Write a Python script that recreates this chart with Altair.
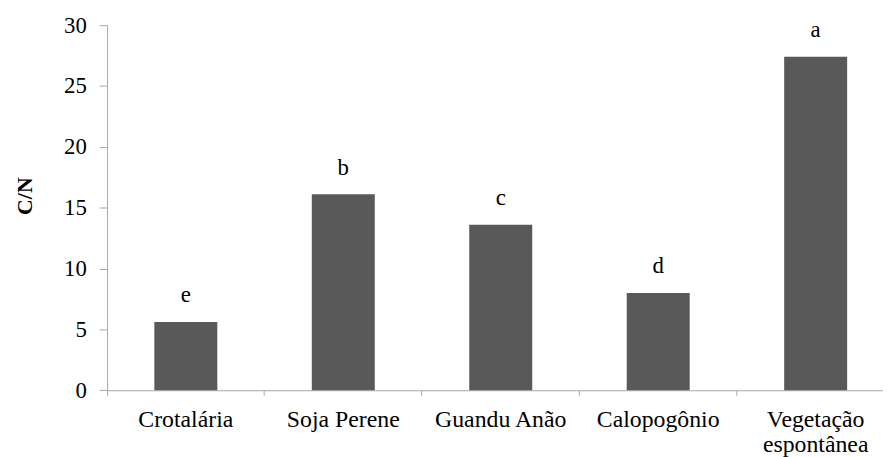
import altair as alt
import pandas as pd

categories = ["Crotalária", "Soja Perene", "Guandu Anão", "Calopogônio", "Vegetação espontânea"]
values = [5.6, 16.1, 13.6, 8.0, 27.4]
letters = ["e", "b", "c", "d", "a"]
y_ticks = [0, 5, 10, 15, 20, 25, 30]

df = pd.DataFrame({"cat": categories, "val": values, "lab": letters})

FONT = "Liberation Serif"
AX = "#a6a6a6"

x = alt.X(
    "cat:N",
    sort=categories,
    scale=alt.Scale(domain=categories, range=[0, 794.5], paddingInner=0, paddingOuter=0),
    axis=alt.Axis(
        title=None, labelAngle=0, bandPosition=0, tickSize=5, labelPadding=13,
        domainColor=AX, tickColor=AX, labelColor="#000000", labelFont=FONT, labelFontSize=24,
        labelLineHeight=25,
        labelExpr="datum.value == 'Vegetação espontânea' ? ['Vegetação', 'espontânea'] : datum.value",
    ),
)
y = alt.Y(
    "val:Q",
    scale=alt.Scale(domain=[0, 30], nice=False),
    axis=alt.Axis(
        values=y_ticks, grid=False, tickSize=8, labelPadding=13,
        domainColor=AX, tickColor=AX, labelColor="#000000", labelFont=FONT, labelFontSize=23,
        title="C/N", titleFont=FONT, titleFontSize=22, titleFontWeight="bold", titleColor="#000000",
        titleAngle=270, titleX=-83, titleY=172, titleAlign="center", titleBaseline="middle",
    ),
)

bars = alt.Chart(df).mark_bar(color="#595959", width=alt.RelativeBandSize(0.4)).encode(x=x, y=y)
text = alt.Chart(df).mark_text(font=FONT, fontSize=23, color="#000000", baseline="alphabetic", dy=-20).encode(
    x=x, y=y, text="lab:N"
)

chart = (
    alt.layer(bars, text)
    .properties(
        width=783, height=368.4,
        autosize=alt.AutoSizeParams(type="none"),
        padding={"left": 100, "top": 15.3, "right": 0, "bottom": 65.3},
        background="white",
    )
    .configure_view(strokeWidth=0)
)

chart.save("out.html", embed_options={"renderer": "svg", "actions": False})
